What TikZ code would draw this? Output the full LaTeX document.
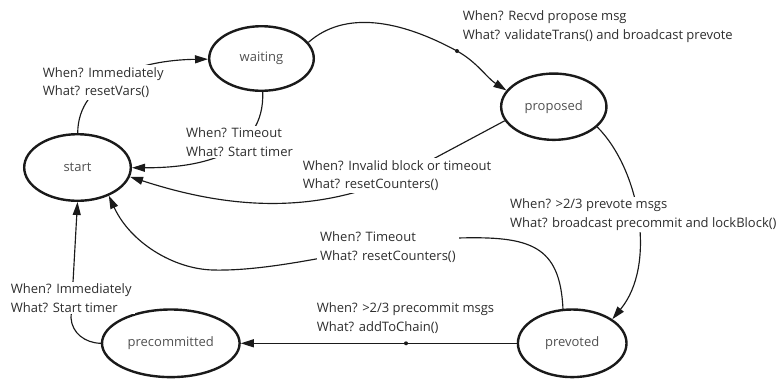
\documentclass[tikz,border=0pt]{standalone}
\usepackage{fontspec}
\setmainfont{Open Sans}
\usetikzlibrary{shapes.geometric,arrows.meta}
\definecolor{labeltext}{HTML}{2E2E2E}
\definecolor{statetext}{HTML}{505050}
\definecolor{ink}{HTML}{1A1A1A}
\tikzset{
  state/.style={ellipse, draw=ink, line width=2.4pt, inner sep=0pt,
    text=statetext, font=\fontsize{13}{15}\selectfont},
  conn/.style={draw=ink, line width=1.15pt, -{Triangle[length=13pt,width=8pt]}},
  guard/.style={fill=white, anchor=north west, align=left, inner xsep=3pt,
    inner ysep=2pt, text=labeltext, font=\fontsize{13}{18.7}\selectfont},
  junction/.style={fill=ink}
}
\begin{document}
\begin{tikzpicture}[x=1pt,y=-1pt]
\useasboundingbox (0,0) rectangle (778,381);

% states
\node[state, minimum width=106.6pt, minimum height=66.6pt] (start) at (77.5,167.5) {start};
\node[state, minimum width=104.6pt, minimum height=64.6pt] (waiting) at (261.5,58.5) {waiting};
\node[state, minimum width=105.3pt, minimum height=66.3pt] (proposed) at (553.8,106.7) {proposed};
\node[state, minimum width=108.6pt, minimum height=67.6pt] (prevoted) at (572.2,343.3) {prevoted};
\node[state, minimum width=137.6pt, minimum height=67.6pt] (precommitted) at (170.8,343.3) {precommitted};

% junction points and bends
\coordinate (dotA) at (457,51);
\coordinate (dotB) at (406,343.3);
\coordinate (invbend) at (420,166);
\coordinate (tobend) at (458,238);
\coordinate (tolow) at (213,270);
\coordinate (pcbend) at (71,318);

% transitions
\draw[conn] (start) .. controls (78,80) and (140,60) .. (waiting);
\draw[conn] (waiting) .. controls (265,155) and (200,168) .. (start);
\draw[conn] (waiting.19) .. controls (345,10) and (400,20) .. (dotA)
  .. controls (477,62) and (487,78) .. (proposed.161);
\draw[conn] (proposed.196) -- (invbend) .. controls (320,220) and (223,207) .. (start.350);
\draw[conn] (proposed.335) .. controls (640,170) and (657,265) .. (prevoted.31);
\draw[conn] (prevoted.105) .. controls (560,245) and (530,236) .. (tobend)
  .. controls (400,236) and (290,272) .. (tolow)
  .. controls (173,269) and (130,242) .. (start.318);
\draw[conn] (prevoted) -- (dotB) -- (precommitted);
\draw[conn] (precommitted.west) .. controls (85,343) and (72,333) .. (pcbend) -- (start.south);

\fill[junction] (dotA) circle (2pt);
\fill[junction] (dotB) circle (2pt);

% guards and actions
\node[guard] (l1) at (39.7,65.1) {When? Immediately\\What? resetVars()};
\node[guard] (l2) at (183,125.4) {When? Timeout\\What? Start timer};
\node[guard] (l3) at (459.7,8.8) {When? Recvd propose msg\\What? validateTrans() and broadcast prevote};
\node[guard] (l4) at (299.7,158.1) {When? Invalid block or timeout\\What? resetCounters()};
\node[guard] (l5) at (507,196.4) {When? >2/3 prevote msgs\\What? broadcast precommit and lockBlock()};
\node[guard] (l6) at (317,229.8) {When? Timeout\\What? resetCounters()};
\node[guard] (l7) at (313.7,300.8) {When? >2/3 precommit msgs\\What? addToChain()};
\node[guard] (l8) at (7.7,281.4) {When? Immediately\\What? Start timer};
\end{tikzpicture}
\end{document}
